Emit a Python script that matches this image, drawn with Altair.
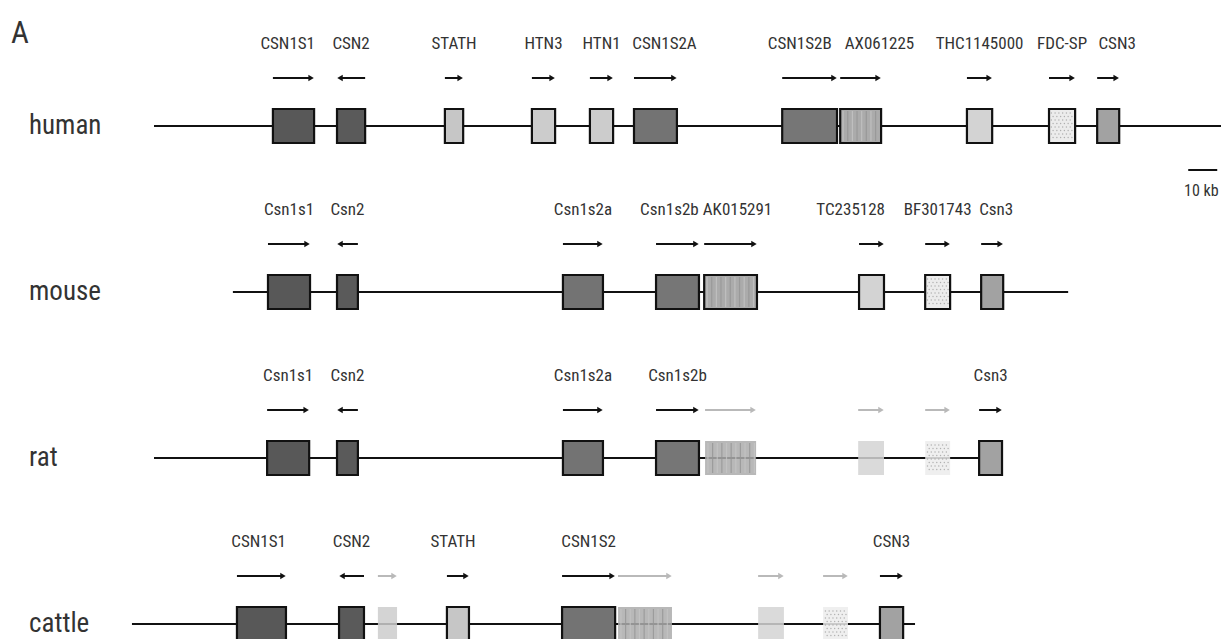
import altair as alt
import pandas as pd

# ---- data: casein locus gene maps (positions in kb along the shown segment) ----
species = ["human", "mouse", "rat", "cattle"]
seg_start = [53.1, 80.3, 53.1, 45.5]
seg_end = [421.0, 368.3, 345.5, 315.5]

human_names = ["CSN1S1", "CSN2", "STATH", "HTN3", "HTN1", "CSN1S2A", "CSN1S2B",
               "AX061225", "THC1145000", "FDC-SP", "CSN3"]
human_family = ["s1", "b", "stath", "htn", "htn", "s2a", "s2b", "ax", "thc", "fdc", "k"]
human_start = [94.1, 116.2, 153.4, 183.4, 203.4, 218.6, 269.7, 289.7, 333.4, 361.7, 378.3]
human_end = [108.3, 125.9, 159.7, 191.4, 211.4, 233.4, 288.6, 303.8, 342.1, 370.7, 385.9]
human_strand = [1, -1, 1, 1, 1, 1, 1, 1, 1, 1, 1]
human_known = [True] * 11

mouse_names = ["Csn1s1", "Csn2", "Csn1s2a", "Csn1s2b", "AK015291", "TC235128", "BF301743", "Csn3"]
mouse_family = ["s1", "b", "s2a", "s2b", "ax", "thc", "fdc", "k"]
mouse_start = [92.4, 116.2, 194.1, 226.2, 242.8, 296.2, 319.0, 338.3]
mouse_end = [106.9, 123.4, 207.9, 241.0, 261.0, 304.8, 327.6, 345.9]
mouse_strand = [1, -1, 1, 1, 1, 1, 1, 1]
mouse_known = [True] * 8

rat_names = ["Csn1s1", "Csn2", "Csn1s2a", "Csn1s2b", "", "", "", "Csn3"]
rat_family = ["s1", "b", "s2a", "s2b", "ax", "thc", "fdc", "k"]
rat_start = [92.1, 116.2, 194.1, 226.2, 243.1, 295.9, 319.0, 337.6]
rat_end = [106.6, 123.4, 207.9, 241.0, 260.7, 304.8, 327.6, 345.5]
rat_strand = [1, -1, 1, 1, 1, 1, 1, 1]
rat_known = [True, True, True, True, False, False, False, True]

cattle_names = ["CSN1S1", "CSN2", "", "STATH", "CSN1S2", "", "", "", "CSN3"]
cattle_family = ["s1", "b", "htn", "stath", "s2a", "ax", "thc", "fdc", "k"]
cattle_start = [81.7, 116.9, 130.3, 154.1, 193.8, 213.1, 261.4, 283.8, 303.4]
cattle_end = [98.6, 125.5, 136.9, 161.7, 212.1, 231.7, 270.3, 292.4, 311.4]
cattle_strand = [1, -1, 1, 1, 1, 1, 1, 1, 1]
cattle_known = [True, True, False, True, True, False, False, False, True]

scale_bar_kb = [409.7, 419.7]

# ---- layout ----
W, H = 1221, 639
X_MAX = 421.0
PX_PER_KB = W / X_MAX
TRACK_Y = {"human": 126, "mouse": 292, "rat": 458, "cattle": 624}
HALF_BOX = 17
ARROW_UP = 48
LABEL_UP = 82
HEAD_HALF_KB = 3.0 / PX_PER_KB
# small horizontal shifts (kb) so that neighbouring names do not collide
LABEL_NUDGE = {
    ("human", "CSN1S1"): -2.0, ("human", "CSN1S2A"): 3.1, ("human", "CSN1S2B"): -3.4,
    ("human", "AX061225"): 6.5, ("human", "CSN3"): 3.1,
    ("mouse", "Csn1s2b"): -2.8, ("mouse", "AK015291"): 2.4, ("mouse", "TC235128"): -7.2,
    ("mouse", "Csn3"): 1.4,
    ("cattle", "CSN1S1"): -1.0, ("cattle", "STATH"): -1.7,
}

FAMILY_FILL = {"s1": "#585858", "b": "#5a5a5a", "s2a": "#737373", "s2b": "#767676",
               "ax": "#ababab", "stath": "#c6c6c6", "htn": "#cccccc", "thc": "#d3d3d3",
               "fdc": "#ececec", "k": "#a2a2a2"}

tables = {
    "human": (human_names, human_family, human_start, human_end, human_strand, human_known),
    "mouse": (mouse_names, mouse_family, mouse_start, mouse_end, mouse_strand, mouse_known),
    "rat": (rat_names, rat_family, rat_start, rat_end, rat_strand, rat_known),
    "cattle": (cattle_names, cattle_family, cattle_start, cattle_end, cattle_strand, cattle_known),
}

rows = []
for sp, (nm, fam, st, en, sd, kn) in tables.items():
    ty = TRACK_Y[sp]
    for i in range(len(nm)):
        mid = (st[i] + en[i]) / 2
        head = en[i] if sd[i] > 0 else st[i]
        rows.append({
            "species": sp, "name": nm[i], "family": fam[i],
            "start": st[i], "end": en[i], "strand": sd[i], "known": kn[i],
            "fill": FAMILY_FILL[fam[i]],
            "top": ty - HALF_BOX, "bottom": ty + HALF_BOX,
            "arrow_y": ty - ARROW_UP, "label_y": ty - LABEL_UP,
            "label_x": mid + LABEL_NUDGE.get((sp, nm[i]), 0.0),
            "tail": st[i] if sd[i] > 0 else en[i],
            "head": head,
            "head_c": head - sd[i] * HEAD_HALF_KB,
            "angle": 0 if sd[i] > 0 else 180,
        })
genes = pd.DataFrame(rows)

segments = pd.DataFrame({
    "species": species, "start": seg_start, "end": seg_end,
    "y": [TRACK_Y[s] for s in species],
})

# vertical stripe texture for the striped boxes
stripe_rows = []
for _, g in genes[genes.family == "ax"].iterrows():
    x = g.start + 1.0
    k = 0
    while x < g.end - 0.4:
        stripe_rows.append({"x": x, "top": g.top + 2, "bottom": g.bottom - 2,
                            "shade": "#c4c4c4" if k % 2 == 0 else "#959595"})
        x += 1.6
        k += 1
stripes = pd.DataFrame(stripe_rows)

# stipple texture for the dotted boxes
dot_rows = []
for _, g in genes[genes.family == "fdc"].iterrows():
    yy = g.top + 4
    r = 0
    while yy < g.bottom - 2:
        x = g.start + (0.8 if r % 2 == 0 else 1.4)
        while x < g.end - 0.4:
            dot_rows.append({"x": x, "y": yy})
            x += 1.3
        yy += 3.5
        r += 1
dots = pd.DataFrame(dot_rows)

xs = alt.Scale(domain=[0, X_MAX], range=[0, W], nice=False, zero=False)
ys = alt.Scale(domain=[0, H], range=[0, H], nice=False, zero=False)
FONT = "Roboto Condensed"
TXT = "#333333"

backbone = alt.Chart(segments).mark_rule(color="#111111", strokeWidth=2).encode(
    x=alt.X("start:Q", scale=xs, axis=None),
    x2="end:Q",
    y=alt.Y("y:Q", scale=ys, axis=None),
)

boxes_known = alt.Chart(genes).transform_filter("datum.known").mark_rect(
    stroke="#111111", strokeWidth=2.2
).encode(
    x=alt.X("start:Q", scale=xs, axis=None), x2="end:Q",
    y=alt.Y("top:Q", scale=ys, axis=None), y2="bottom:Q",
    fill=alt.Fill("fill:N", scale=None),
)

boxes_unknown = alt.Chart(genes).transform_filter("!datum.known").mark_rect(
    opacity=0.85
).encode(
    x=alt.X("start:Q", scale=xs, axis=None), x2="end:Q",
    y=alt.Y("top:Q", scale=ys, axis=None), y2="bottom:Q",
    fill=alt.Fill("fill:N", scale=None),
)

stripe_layer = alt.Chart(stripes).mark_rule(strokeWidth=1.2, opacity=0.8).encode(
    x=alt.X("x:Q", scale=xs, axis=None),
    y=alt.Y("top:Q", scale=ys, axis=None), y2="bottom:Q",
    color=alt.Color("shade:N", scale=None),
)

dot_layer = alt.Chart(dots).mark_circle(size=2, color="#a8a8a8", opacity=0.9).encode(
    x=alt.X("x:Q", scale=xs, axis=None),
    y=alt.Y("y:Q", scale=ys, axis=None),
)

arrow_color = alt.condition("datum.known", alt.value("#111111"), alt.value("#b9b9b9"))

shafts = alt.Chart(genes).mark_rule(strokeWidth=2).encode(
    x=alt.X("tail:Q", scale=xs, axis=None), x2="head_c:Q",
    y=alt.Y("arrow_y:Q", scale=ys, axis=None),
    color=arrow_color,
)

heads = alt.Chart(genes).mark_point(
    shape="triangle-right", filled=True, size=40, opacity=1
).encode(
    x=alt.X("head_c:Q", scale=xs, axis=None),
    y=alt.Y("arrow_y:Q", scale=ys, axis=None),
    angle=alt.Angle("angle:Q", scale=None),
    color=arrow_color,
)

labels = alt.Chart(genes).transform_filter("datum.name != ''").mark_text(
    font=FONT, fontSize=17, color=TXT, baseline="middle", align="center"
).encode(
    x=alt.X("label_x:Q", scale=xs, axis=None),
    y=alt.Y("label_y:Q", scale=ys, axis=None),
    text="name:N",
)

species_labels = alt.Chart(segments).mark_text(
    font=FONT, fontSize=27, color=TXT, baseline="middle", align="left"
).encode(
    x=alt.value(29),
    y=alt.Y("y:Q", scale=ys, axis=None),
    text="species:N",
)

panel = alt.Chart(pd.DataFrame({"t": ["A"]})).mark_text(
    font=FONT, fontSize=31, color=TXT, align="left", baseline="middle"
).encode(x=alt.value(11), y=alt.value(34), text="t:N")

bar_df = pd.DataFrame({"a": [scale_bar_kb[0]], "b": [scale_bar_kb[1]], "y": [170], "ty": [191],
                       "mid": [sum(scale_bar_kb) / 2 - 0.5], "t": ["10 kb"]})
scale_bar = alt.Chart(bar_df).mark_rule(color="#111111", strokeWidth=2).encode(
    x=alt.X("a:Q", scale=xs, axis=None), x2="b:Q",
    y=alt.Y("y:Q", scale=ys, axis=None),
)
scale_text = alt.Chart(bar_df).mark_text(
    font=FONT, fontSize=16, color=TXT, align="center", baseline="middle"
).encode(
    x=alt.X("mid:Q", scale=xs, axis=None),
    y=alt.Y("ty:Q", scale=ys, axis=None),
    text="t:N",
)

chart = alt.layer(
    backbone, boxes_known, boxes_unknown, stripe_layer, dot_layer,
    shafts, heads, labels, species_labels, panel, scale_bar, scale_text,
).properties(
    width=W, height=H, padding=0, autosize=alt.AutoSizeParams(type="none"),
    background="white",
).configure_view(stroke=None)

chart.save("out.html", embed_options={"renderer": "svg", "actions": False})
